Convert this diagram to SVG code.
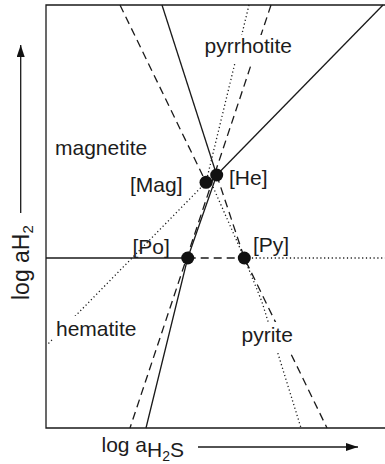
<svg xmlns="http://www.w3.org/2000/svg" width="385" height="464" viewBox="0 0 385 464">
<defs>
<style>
.ln{fill:none;stroke:#1a1a1a;stroke-width:1.3}
.da{stroke-dasharray:8,5}
.dt{stroke-dasharray:1.2,2.6;stroke-width:1.3}
.t{font-family:"Liberation Sans",Arial,sans-serif;font-size:21px;fill:#1c1c1c}
.dot{fill:#111}
.bg{fill:#fff}
</style>
<marker id="ah" viewBox="0 0 12 8" refX="12" refY="4" markerWidth="12" markerHeight="8" markerUnits="userSpaceOnUse" orient="auto"><path d="M0,0L12,4L0,8z" fill="#111"/></marker>
</defs>
<rect width="385" height="464" fill="#fff"/>
<g id="frame">
<path class="ln" d="M385,5H46V428H385"/>
</g>
<g id="connectors">
<path class="ln" d="M162,5L216.7,175"/>
<path class="ln" d="M216.7,175L383,5"/>
<path class="ln" d="M216.7,175L187.7,258L146,428"/>
<path class="ln" d="M46,258H187.7"/>
<path class="ln da" d="M187.7,258H244.3"/>
<path class="ln da" d="M120,5L206,182.3"/>
<path class="ln da" d="M271,5L130,428"/>
<path class="ln da" d="M216.7,175L244.3,258L327,428"/>
<path class="ln dt" d="M249,5L206,182.3"/>
<path class="ln dt" d="M210,180L244.3,258L262,302L301,428"/>
<path class="ln dt" d="M206,182.3L47,345"/>
<path class="ln dt" d="M244.3,258H385"/>
</g>
<g id="node-Mag"><circle class="dot" cx="206" cy="182.3" r="6.5"/><text class="t" x="130" y="192">[Mag]</text></g>
<g id="node-He"><circle class="dot" cx="216.7" cy="175" r="6.5"/><text class="t" x="229" y="185">[He]</text></g>
<g id="node-Po"><circle class="dot" cx="187.7" cy="258" r="6.5"/><text class="t" x="132.5" y="253.5">[Po]</text></g>
<g id="node-Py"><circle class="dot" cx="244.3" cy="258" r="6.5"/><text class="t" x="253" y="252">[Py]</text></g>
<g id="labels">
<rect class="bg" x="202" y="35" width="93" height="28"/>
<text class="t" x="204.5" y="53">pyrrhotite</text>
<text class="t" x="55" y="155">magnetite</text>
<rect class="bg" x="53" y="316" width="87" height="27"/>
<text class="t" x="56" y="336">hematite</text>
<rect class="bg" x="239" y="322" width="57" height="29"/>
<text class="t" x="241.5" y="342">pyrite</text>
</g>
<g id="axes">
<text class="t" x="101.5" y="452">log a<tspan y="457">H</tspan><tspan y="461" font-size="14">2</tspan><tspan y="457">S</tspan></text>
<path class="ln" d="M198,447H358" marker-end="url(#ah)"/>
<text class="t" font-size="23" style="font-size:23px" transform="translate(29,300) rotate(-90)">log aH<tspan dy="4" style="font-size:15px">2</tspan></text>
<path class="ln" d="M20.7,213V45" marker-end="url(#ah)"/>
</g>
</svg>
